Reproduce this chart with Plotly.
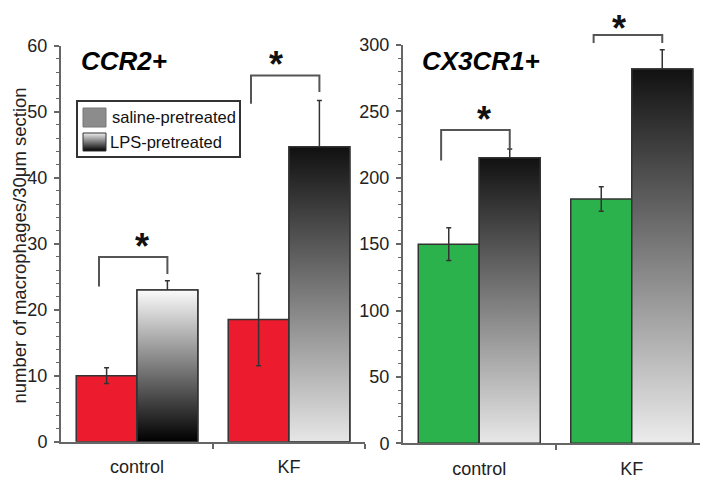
import plotly.graph_objects as go

# ---------------- data ----------------
groups = ["control", "KF"]
group_pos = [0, 1]

ccr2_saline = [10.0, 18.5]
ccr2_saline_err = [1.2, 7.0]
ccr2_lps = [23.0, 44.7]
ccr2_lps_err = [1.4, 7.0]

cx3cr1_saline = [150, 184]
cx3cr1_saline_err = [12.3, 9.3]
cx3cr1_lps = [215, 282]
cx3cr1_lps_err = [6.7, 14.5]

# significance brackets per group: [left leg bottom, bracket top, right leg bottom]
ccr2_brackets = [[23.5, 28.0, 25.4], [51.2, 55.5, 53.0]]
cx3cr1_brackets = [[213.0, 236.0, 222.0], [301.5, 307.5, 301.5]]

ccr2_ticks = [0, 10, 20, 30, 40, 50, 60]
cx3cr1_ticks = [0, 50, 100, 150, 200, 250, 300]

series_names = ["saline-pretreated", "LPS-pretreated"]

# ---------------- style ----------------
FONT = "Liberation Sans"
RED = "#ec1c2e"
GREEN = "#2bb24c"
EDGE = "#333333"
AXIS = "#666666"
TXT = "#222222"
XR = [-0.5, 1.5]
BW = 0.4  # bar width from bargap=0.2 with two bars per group
Y1MAX, Y2MAX = 60, 300
# gradient (bottom colour, top colour) for the LPS bars
ccr2_grad = [("#000000", "#fbfbfb"), ("#e6e6e6", "#101010")]
cx3cr1_grad = [("#e8e8e8", "#111111"), ("#ececec", "#111111")]
ccr2_star_shift = [-12, -12]
cx3cr1_star_shift = [-12, -15.7]

OFF = 8                 # page body margin
W, H = 708 - OFF, 480 - OFF

def px(xp):             # window pixel -> paper x
    return (xp - OFF) / W

def py(yp):             # window pixel -> paper y
    return 1 - (yp - OFF) / H

fig = go.Figure()

def add_panel(xa, ya, saline, saline_err, lps, lps_err, color, grads):
    fig.add_trace(go.Bar(
        x=group_pos, y=saline, name=series_names[0], xaxis=xa, yaxis=ya,
        marker=dict(color=color, line=dict(color=EDGE, width=1.5)),
        error_y=dict(type="data", array=saline_err, color=EDGE, thickness=1.5, width=2.5),
        showlegend=False, offsetgroup="a"))
    fig.add_trace(go.Bar(
        x=group_pos, y=lps, name=series_names[1], xaxis=xa, yaxis=ya,
        marker=dict(color="#888888", line=dict(color=EDGE, width=1.5)),
        error_y=dict(type="data", array=lps_err, color=EDGE, thickness=1.5, width=2.5),
        showlegend=False, offsetgroup="b"))
    # gradient overlay on the LPS bars
    for i, v, (cb, ct) in zip(group_pos, lps, grads):
        x0, x1 = i, i + BW
        fig.add_trace(go.Scatter(
            x=[x0, x1, x1, x0, x0], y=[0, 0, v, v, 0], xaxis=xa, yaxis=ya,
            mode="lines", fill="toself",
            fillgradient=dict(type="vertical", colorscale=[[0, cb], [1, ct]]),
            line=dict(color=EDGE, width=1.5), hoverinfo="skip", showlegend=False))

add_panel("x", "y", ccr2_saline, ccr2_saline_err, ccr2_lps, ccr2_lps_err, RED, ccr2_grad)
add_panel("x2", "y2", cx3cr1_saline, cx3cr1_saline_err, cx3cr1_lps, cx3cr1_lps_err, GREEN, cx3cr1_grad)

# legend gradient swatch (overlay axes in window pixels)
fig.add_trace(go.Scatter(
    x=[83, 106, 106, 83, 83], y=[151, 151, 133, 133, 151], xaxis="x3", yaxis="y3",
    mode="lines", fill="toself",
    fillgradient=dict(type="vertical", colorscale=[[0, "#000000"], [1, "#eeeeee"]]),
    line=dict(color=EDGE, width=1), hoverinfo="skip", showlegend=False))

shapes = []
annotations = []

def xdom(v):
    return (v - XR[0]) / (XR[1] - XR[0])

def add_brackets(xa, ya, brackets, ymax, shifts):
    for i, (lb, top, rb), sh in zip(group_pos, brackets, shifts):
        xl, xr = xdom(i - 0.25), xdom(i + BW / 2)
        shapes.append(dict(
            type="path", xref=f"{xa} domain", yref=f"{ya} domain",
            path=f"M {xl},{lb/ymax} L {xl},{top/ymax} L {xr},{top/ymax} L {xr},{rb/ymax}",
            line=dict(color="#555555", width=2)))
        annotations.append(dict(
            x=xdom(i - 0.025), y=top / ymax, xref=f"{xa} domain", yref=f"{ya} domain",
            text="<b>*</b>", showarrow=False,
            font=dict(family=FONT, size=36, color="#111111"), yanchor="bottom", yshift=sh))

add_brackets("x", "y", ccr2_brackets, Y1MAX, ccr2_star_shift)
add_brackets("x2", "y2", cx3cr1_brackets, Y2MAX, cx3cr1_star_shift)

# legend box and swatches
shapes.append(dict(type="rect", xref="paper", yref="paper",
                   x0=px(77), x1=px(240), y0=py(157), y1=py(101),
                   line=dict(color="#333333", width=2), fillcolor="rgba(0,0,0,0)"))
shapes.append(dict(type="rect", xref="paper", yref="paper",
                   x0=px(83), x1=px(106), y0=py(127), y1=py(108),
                   line=dict(color="#777777", width=1), fillcolor="#8c8c8c"))
annotations.append(dict(x=px(110), y=py(117), xref="paper", yref="paper",
                        text=series_names[0], showarrow=False, xanchor="left", yanchor="middle",
                        font=dict(family=FONT, size=16.5, color="#111111")))
annotations.append(dict(x=px(108), y=py(142), xref="paper", yref="paper",
                        text=series_names[1], showarrow=False, xanchor="left", yanchor="middle",
                        font=dict(family=FONT, size=16.5, color="#111111")))

# panel titles
annotations.append(dict(x=px(79), y=py(61), xref="paper", yref="paper",
                        text="<b><i>CCR2+</i></b>", showarrow=False, xanchor="left", yanchor="middle",
                        font=dict(family=FONT, size=26, color="#000000")))
annotations.append(dict(x=px(420), y=py(61), xref="paper", yref="paper",
                        text="<b><i>CX3CR1+</i></b>", showarrow=False, xanchor="left", yanchor="middle",
                        font=dict(family=FONT, size=26, color="#000000")))
# y axis title
annotations.append(dict(x=px(18.5), y=py(246), xref="paper", yref="paper",
                        text="number of macrophages/30μm section", showarrow=False, textangle=-90,
                        xanchor="center", yanchor="middle", borderpad=0,
                        font=dict(family=FONT, size=18.5, color=TXT)))

def xaxis(domain, anchor):
    return dict(domain=domain, anchor=anchor, range=XR, tickvals=group_pos, ticktext=groups,
                showline=True, linecolor=AXIS, linewidth=2, showgrid=False, zeroline=False,
                automargin=False,
                ticks="", ticklabelstandoff=8, tickfont=dict(family=FONT, size=18, color=TXT),
                minor=dict(tickvals=[0.5, 1.5], ticks="outside", ticklen=5, tickwidth=1.5,
                           tickcolor=AXIS, showgrid=False),
                fixedrange=True)

def yaxis(domain, anchor, rng, ticks, minor):
    return dict(domain=domain, anchor=anchor, range=rng, tickvals=ticks,
                showline=True, linecolor=AXIS, linewidth=2, showgrid=False, zeroline=False,
                automargin=False,
                ticks="outside", ticklen=5, tickwidth=1.5, tickcolor=AXIS,
                ticklabelstandoff=3, tickfont=dict(family=FONT, size=18, color=TXT),
                minor=dict(dtick=minor, ticks="outside", ticklen=3, tickwidth=1,
                           tickcolor=AXIS, showgrid=False),
                fixedrange=True)

fig.update_layout(
    width=W, height=H, margin=dict(l=0, r=0, t=0, b=0, autoexpand=False),
    paper_bgcolor="white", plot_bgcolor="rgba(0,0,0,0)",
    barmode="group", bargap=0.2, bargroupgap=0,
    showlegend=False,
    font=dict(family=FONT, color=TXT),
    xaxis=xaxis([px(61), px(365)], "y"),
    yaxis=yaxis([py(441.7), py(45.7)], "x", [0, Y1MAX], ccr2_ticks, 2),
    xaxis2=xaxis([px(403), 1.0], "y2"),
    yaxis2=yaxis([py(443.3), py(45)], "x2", [0, Y2MAX], cx3cr1_ticks, 10),
    xaxis3=dict(domain=[0, 1], range=[OFF, OFF + W], visible=False, anchor="y3",
                fixedrange=True, automargin=False),
    yaxis3=dict(domain=[0, 1], range=[OFF + H, OFF], visible=False, anchor="x3",
                fixedrange=True, automargin=False),
    shapes=shapes, annotations=annotations,
)

fig.write_html("out.html")
